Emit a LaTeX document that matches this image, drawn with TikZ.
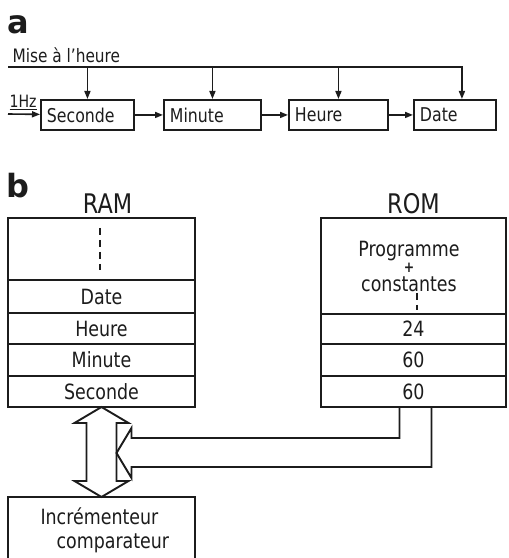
\documentclass[tikz,border=0pt]{standalone}
\usepackage{fontspec}
\setmainfont{DejaVu Sans}[FakeStretch=0.83]
\newfontfamily\panelfam{DejaVu Sans}
\usepackage{tikz}
\usepackage{xcolor}
\usetikzlibrary{arrows.meta,positioning}
\definecolor{inkc}{HTML}{1C1C1C}
\newcommand{\paneltxt}{\panelfam\bfseries\fontsize{32}{32}\selectfont}
\newcommand{\boxtxt}{\fontsize{19}{19}\selectfont}
\newcommand{\celltxt}{\fontsize{21}{18}\selectfont}
\newcommand{\headtxt}{\fontsize{27}{27}\selectfont}
\newcommand{\misetxt}{\fontsize{18.5}{18.5}\selectfont}
\newcommand{\hztxt}{\fontsize{17}{17}\selectfont}
\tikzset{
  abox/.style={draw=inkc, line width=1.9pt, minimum height=30pt, inner xsep=6pt, inner ysep=0pt, align=left, anchor=north west, font=\boxtxt},
  feed/.style={draw=inkc, line width=1.6pt, -{Triangle[length=8pt,width=6pt]}},
  cell/.style={draw=inkc, line width=1.9pt, minimum width=187pt, inner sep=0pt, outer sep=0pt, font=\celltxt},
  fat/.style={draw=inkc, line width=1.9pt, line join=miter},
  dots/.style={draw=inkc, line width=1.9pt, dash pattern=on 7pt off 5pt},
}

\begin{document}
\begin{tikzpicture}[x=1pt,y=1pt,text=inkc]
\useasboundingbox (0,0) rectangle (509,558);
\clip (0,0) rectangle (509,558);
\node[font=\paneltxt] (pa) at (18,533) {a};
\node[anchor=base west, font=\misetxt] (misel) at (9,495) {Mise à l’heure};
\node[anchor=base west, font=\hztxt] (hzl) at (6,450) {\underline{1Hz}};
\node[abox, text width=81pt] (sec) at (40,459) {Seconde};
\node[abox, text width=85pt] (min) at (163,459) {Minute};
\node[abox, text width=87pt] (heu) at (288,459) {Heure};
\node[abox, text width=70pt] (dat) at (413,459) {Date};
\coordinate (mise) at (8,491);
\coordinate (hz) at (8,444);
\draw[feed] (hz) -- (sec);
\foreach \a/\b in {sec/min,min/heu,heu/dat} \draw[feed] (\a) -- (\b);
\foreach \n in {sec,min,heu} \draw[feed] (\n.north |- mise) -- (\n.north);
\draw[feed] (mise) -| ([xshift=7pt]dat.north);
\node[font=\paneltxt] (pb) at (18,372) {b};
\node[cell, anchor=north west, minimum height=62pt] (ramtop) at (8,340) {};
\node[cell, minimum height=33pt, below=0pt of ramtop] (ramdate) {Date};
\node[cell, minimum height=31pt, below=0pt of ramdate] (ramh) {Heure};
\node[cell, minimum height=32pt, below=0pt of ramh] (rammin) {Minute};
\node[cell, minimum height=31pt, below=0pt of rammin] (ramsec) {Seconde};
\node[font=\headtxt, above=1pt of ramtop, xshift=6pt] (raml) {RAM};
\draw[dots] (100,330) -- (100,288);
\node[cell, anchor=north west, minimum width=185pt, minimum height=96pt] (romtop) at (321,340) {};
\node[cell, minimum width=185pt, minimum height=30pt, below=0pt of romtop] (rom24) {24};
\node[cell, minimum width=185pt, minimum height=32pt, below=0pt of rom24] (rom60a) {60};
\node[cell, minimum width=185pt, minimum height=31pt, below=0pt of rom60a] (rom60b) {60};
\node[font=\headtxt, above=1pt of romtop] (roml) {ROM};
\node[font=\celltxt, align=center] (romtxt) at (409,292) {Programme\\[-2pt]{\fontsize{15}{15}\selectfont\bfseries +}\\[1pt]constantes};
\draw[dots] (417,265) -- (417,248);
\node[draw=inkc, line width=1.9pt, anchor=north west, minimum width=187pt, minimum height=80pt, inner sep=0pt, outer sep=0pt] (inc) at (8,61) {};
\node[anchor=west, align=left, font=\celltxt] (inctxt) at (37,28) {Incrémenteur\\[6pt]\hspace*{16pt}comparateur};
\draw[fat] (ramsec.south) -- ++(27,-16) -- ++(-12,0) -- ++(0,-58) -- ++(12,0) -- (inc.north) -- ++(-27,16) -- ++(12,0) -- ++(0,58) -- ++(-12,0) -- cycle;
\coordinate (busA) at ([xshift=-14pt]rom60b.south);
\coordinate (busB) at ([xshift=18pt]rom60b.south);
\coordinate (tip) at (116.5,105);
\draw[fat] (busA) |- ([shift={(15,15)}]tip) -- ++(0,10) -- (tip) -- ++(15,-25) -- ++(0,11) -| (busB);
\end{tikzpicture}
\end{document}
